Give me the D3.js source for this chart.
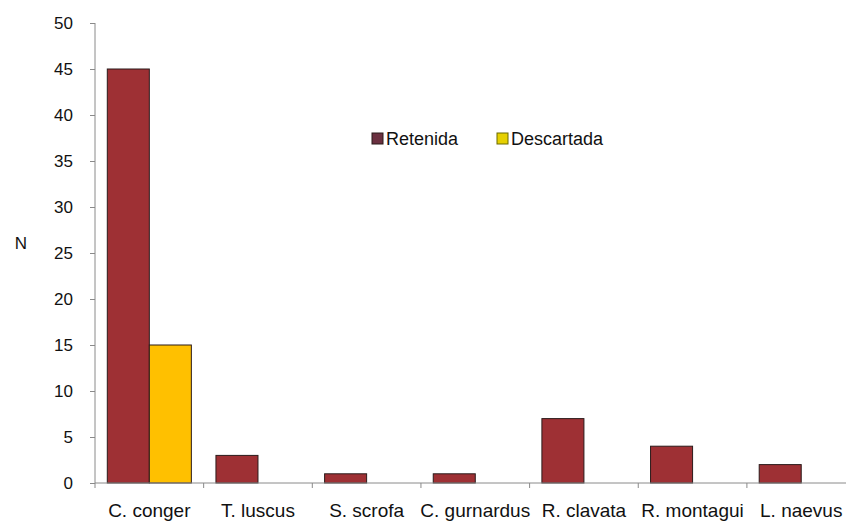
<!DOCTYPE html>
<html>
<head>
<meta charset="utf-8">
<script src="https://cdn.jsdelivr.net/npm/d3@7"></script>
<style>
  html, body { margin: 0; padding: 0; background: #ffffff; }
  svg { display: block; font-family: "Liberation Sans", Arial, sans-serif; }
</style>
</head>
<body>
<svg id="chart" width="846" height="523"></svg>
<script>
const categories = ["C. conger", "T. luscus", "S. scrofa", "C. gurnardus", "R. clavata", "R. montagui", "L. naevus"];
const seriesNames = ["Retenida", "Descartada"];
const retenida = [45, 3, 1, 1, 7, 4, 2];
const descartada = [15, 0, 0, 0, 0, 0, 0];
const yTicks = [0, 5, 10, 15, 20, 25, 30, 35, 40, 45, 50];
const barColors = ["#9e3034", "#ffc000"];
const swatchColors = ["#6b3040", "#e6d000"];
const swatchStroke = ["#2a1a1a", "#6b6a00"];

const svg = d3.select("#chart");
const plotLeft = 95, plotBottom = 483, plotTop = 23;
const bandW = 108.65;

const x0 = d3.scaleBand().domain(categories).range([plotLeft, plotLeft + bandW * categories.length]).padding(0);
const x1 = d3.scaleBand().domain(seriesNames).range([12.3, bandW - 12.3]).padding(0);
const y = d3.scaleLinear().domain([0, 50]).range([plotBottom, plotTop]);

const data = categories.map((c, i) => ({ cat: c, vals: [retenida[i], descartada[i]] }));

// bars
const groups = svg.append("g").selectAll("g").data(data).join("g")
  .attr("transform", d => `translate(${x0(d.cat)},0)`);
groups.selectAll("rect")
  .data(d => d.vals.map((v, j) => ({ s: seriesNames[j], v, j })).filter(e => e.v > 0))
  .join("rect")
  .attr("x", e => x1(e.s))
  .attr("width", x1.bandwidth())
  .attr("y", e => y(e.v))
  .attr("height", e => y(0) - y(e.v))
  .attr("fill", e => barColors[e.j])
  .attr("stroke", "#2b1b1b")
  .attr("stroke-width", 1);

// y axis
const yAxis = d3.axisLeft(y).tickValues(yTicks).tickSize(5).tickPadding(17);
const gy = svg.append("g").attr("transform", `translate(${plotLeft},0)`).call(yAxis);
gy.select(".domain").attr("stroke", "#8a8a8a").attr("d", `M0,${plotTop}V${plotBottom + 5}`);
gy.selectAll(".tick line").attr("stroke", "#8a8a8a");
gy.selectAll(".tick text").attr("font-size", 17).attr("fill", "#111").attr("font-family", "'Liberation Sans', Arial, sans-serif");

// x axis
const xBoundaries = categories.map(c => x0(c)).concat([x0(categories[categories.length - 1]) + bandW]);
const gx = svg.append("g");
gx.append("line").attr("x1", plotLeft).attr("x2", 846).attr("y1", plotBottom).attr("y2", plotBottom).attr("stroke", "#8a8a8a");
gx.selectAll("line.xt").data(xBoundaries.slice(1)).join("line").attr("class", "xt")
  .attr("x1", d => d).attr("x2", d => d).attr("y1", plotBottom).attr("y2", plotBottom + 5).attr("stroke", "#8a8a8a");
gx.selectAll("text").data(categories).join("text")
  .attr("x", d => x0(d) + bandW / 2)
  .attr("y", 517)
  .attr("text-anchor", "middle")
  .attr("font-size", 19)
  .attr("fill", "#111")
  .text(d => d);

// y label
svg.append("text").attr("x", 21).attr("y", 249).attr("text-anchor", "middle")
  .attr("font-size", 17).attr("fill", "#111").text("N");

// legend
const legendX = [372, 497];
const leg = svg.append("g").selectAll("g").data(seriesNames).join("g")
  .attr("transform", (d, i) => `translate(${legendX[i]},133)`);
leg.append("rect").attr("width", 11).attr("height", 11)
  .attr("fill", (d, i) => swatchColors[i]).attr("stroke", (d, i) => swatchStroke[i]).attr("stroke-width", 1);
leg.append("text").attr("x", 14).attr("y", 12).attr("font-size", 18).attr("fill", "#111").text(d => d);
</script>
</body>
</html>
